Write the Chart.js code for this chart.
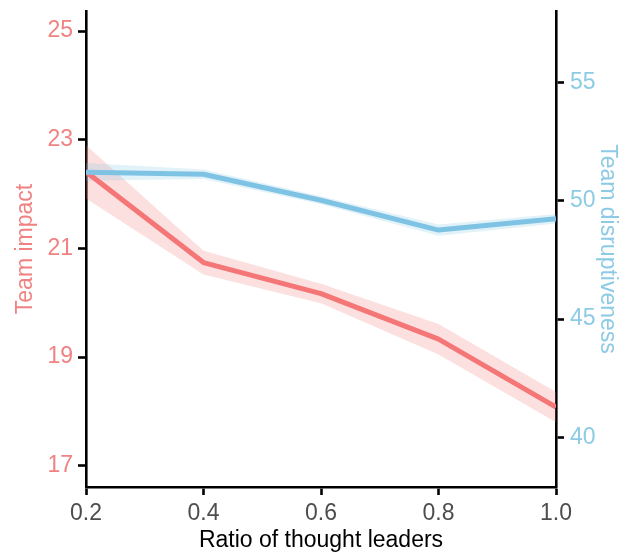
<!DOCTYPE html>
<html>
<head>
<meta charset="utf-8">
<script src="https://cdn.jsdelivr.net/npm/chart.js@4.4.1/dist/chart.umd.min.js"></script>
<style>
  html, body { margin: 0; padding: 0; background: #ffffff; }
  #wrap { width: 621px; height: 554px; position: relative; }
</style>
</head>
<body>
<div id="wrap"><canvas id="c"></canvas></div>
<script>
// ---- data ----
const ratios        = [0.2, 0.4, 0.6, 0.8, 1.0];
const impact        = [22.41, 20.74, 20.17, 19.33, 18.08];
const impactUpper   = [22.90, 20.96, 20.35, 19.61, 18.36];
const impactLower   = [21.92, 20.52, 19.99, 19.05, 17.80];
const disrupt       = [51.20, 51.12, 50.02, 48.76, 49.24];
const disruptUpper  = [51.60, 51.32, 50.19, 49.00, 49.44];
const disruptLower  = [50.84, 50.92, 49.85, 48.52, 49.04];
const xTicks        = [0.2, 0.4, 0.6, 0.8, 1.0];
const impactTicks   = [17, 19, 21, 23, 25];
const disruptTicks  = [40, 45, 50, 55];

const RED = '#F47676';
const RED_TXT = '#F08282';
const RED_BAND = 'rgba(244,120,120,0.24)';
const BLUE = '#7EC3E4';
const BLUE_TXT = '#8DCBE5';
const BLUE_BAND = 'rgba(125,195,228,0.22)';
const FONT = '"Liberation Sans", Arial, Helvetica, sans-serif';
const FS = 23;
const AXW = 2.6;

const pts = arr => arr.map((v, i) => ({ x: ratios[i], y: v }));
const bandCommon = { pointRadius: 0, borderWidth: 0, tension: 0 };
const noPad = s => { s.paddingTop = 0; s.paddingBottom = 0; s.paddingLeft = 0; s.paddingRight = 0; };

new Chart(document.getElementById('c'), {
  type: 'line',
  data: {
    datasets: [
      { ...bandCommon, label: 'impactUpper', data: pts(impactUpper), yAxisID: 'yL', fill: '+1', backgroundColor: RED_BAND, borderColor: 'transparent', order: 5 },
      { ...bandCommon, label: 'impactLower', data: pts(impactLower), yAxisID: 'yL', fill: false, borderColor: 'transparent', order: 5 },
      { ...bandCommon, label: 'disruptUpper', data: pts(disruptUpper), yAxisID: 'yR', fill: '+1', backgroundColor: BLUE_BAND, borderColor: 'transparent', order: 4 },
      { ...bandCommon, label: 'disruptLower', data: pts(disruptLower), yAxisID: 'yR', fill: false, borderColor: 'transparent', order: 4 },
      { label: 'Team impact', data: pts(impact), yAxisID: 'yL', borderColor: RED, borderWidth: 5, pointRadius: 0, fill: false, tension: 0, order: 2, borderJoinStyle: 'round' },
      { label: 'Team disruptiveness', data: pts(disrupt), yAxisID: 'yR', borderColor: BLUE, borderWidth: 5, pointRadius: 0, fill: false, tension: 0, order: 1, borderJoinStyle: 'round' }
    ]
  },
  options: {
    responsive: true,
    maintainAspectRatio: false,
    animation: false,
    devicePixelRatio: 1,
    layout: { padding: { top: 11, left: 0, right: 0, bottom: 0 } },
    plugins: { legend: { display: false }, tooltip: { enabled: false } },
    scales: {
      x: {
        type: 'linear',
        min: 0.2, max: 1.0,
        afterBuildTicks: s => { s.ticks = xTicks.map(v => ({ value: v })); },
        afterFit: s => { s.height = 67; noPad(s); },
        ticks: { color: '#4D4D4D', font: { family: FONT, size: FS }, padding: 5, maxRotation: 0,
                 callback: v => Number(v).toFixed(1) },
        grid: { drawOnChartArea: false, drawTicks: true, tickLength: 8, tickColor: '#000', tickWidth: AXW },
        border: { display: true, color: '#000', width: AXW },
        title: { display: true, text: 'Ratio of thought leaders', color: '#000', font: { family: FONT, size: FS }, padding: { top: 0, bottom: 0 } }
      },
      yL: {
        type: 'linear', position: 'left',
        min: 16.61, max: 25.37,
        afterBuildTicks: s => { s.ticks = impactTicks.map(v => ({ value: v })); },
        afterFit: s => { s.width = 86; noPad(s); },
        ticks: { color: RED_TXT, font: { family: FONT, size: FS }, padding: 5 },
        grid: { drawOnChartArea: false, drawTicks: true, tickLength: 8, tickColor: '#000', tickWidth: AXW },
        border: { display: true, color: '#000', width: AXW },
        title: { display: true, text: 'Team impact', color: RED_TXT, font: { family: FONT, size: FS }, padding: { top: 12, bottom: 0 } }
      },
      yR: {
        type: 'linear', position: 'right',
        min: 37.9, max: 58.02,
        afterBuildTicks: s => { s.ticks = disruptTicks.map(v => ({ value: v })); },
        afterFit: s => { s.width = 65; noPad(s); },
        ticks: { color: BLUE_TXT, font: { family: FONT, size: FS }, padding: 6 },
        grid: { drawOnChartArea: false, drawTicks: true, tickLength: 8, tickColor: '#000', tickWidth: AXW },
        border: { display: true, color: '#000', width: AXW },
        title: { display: true, text: 'Team disruptiveness', color: BLUE_TXT, font: { family: FONT, size: FS }, padding: { top: 0, bottom: 0 } }
      }
    }
  }
});
</script>
</body>
</html>
